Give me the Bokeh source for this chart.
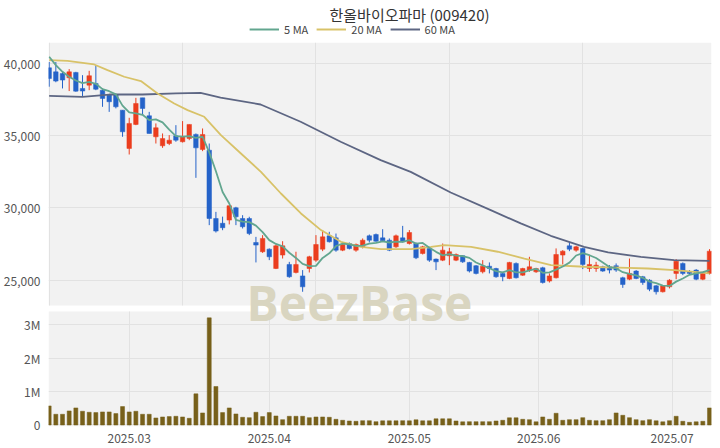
from bokeh.plotting import figure
from bokeh.layouts import column
from bokeh.models import (ColumnDataSource, FixedTicker, Label, Grid, BoxAnnotation,
                          Range1d)
from bokeh.embed import file_html
from bokeh.resources import INLINE

FONT = "Noto Sans CJK KR"
RED = "#eb3d1e"
BLUE = "#2563c9"
VOLC = "#77601a"
GRID = "#e2e2e2"
PANEL = "#f2f2f2"
C5, C20, C60 = "#62a68f", "#d8c268", "#5d6683"

title_text = "한올바이오파마 (009420)"

opens = [39700, 39420, 39300, 39010, 39380, 38270, 38500, 38615, 38150, 37810,
         37850, 36770, 34120, 35780, 37620, 36380, 34925, 34300, 34460, 34990,
         34580, 34810, 35090, 34050, 34000, 29270, 28940, 29160, 30010, 29270,
         29270, 27610, 26970, 27150, 25810, 26740, 26090, 25535, 25300, 25810,
         26390, 27150, 28070, 27930, 27080, 27540, 27080, 27310, 28070, 28160,
         27930, 27770, 27310, 27930, 27540, 27540, 26850, 27200, 26460, 26390,
         26690, 26390, 26690, 26230, 26000, 25580, 25970, 25810, 25470, 25120,
         26160, 25350, 25700, 25580, 25860, 24940, 25170, 26740, 27380, 27080,
         27200, 25810, 25810, 25930, 25930, 26000, 25170, 25070, 25630, 25240,
         25000, 24610, 24200, 24540, 25470, 26160, 25580, 25700, 25070, 25470]
highs = [40100, 40100, 39420, 39610, 39420, 39190, 39490, 39880, 38270, 37850,
         37900, 36770, 36240, 37620, 37620, 36650, 35850, 35155, 35040, 35730,
         36010, 35780, 35155, 35500, 34460, 29730, 29400, 30200, 30080, 29500,
         29390, 28000, 28120, 27200, 27470, 27700, 26270, 26970, 25700, 26690,
         28120, 28470, 28350, 28230, 27610, 27610, 27540, 27890, 28160, 28230,
         28530, 27890, 28160, 28760, 28470, 27610, 27380, 27240, 26500, 27540,
         27240, 26850, 26740, 26270, 26050, 26390, 26230, 25860, 25580, 26270,
         26230, 25860, 26620, 25860, 25930, 25470, 27200, 27080, 27610, 27380,
         27240, 26690, 26270, 26000, 26050, 26160, 25240, 26500, 25700, 25300,
         25070, 24660, 24660, 25070, 26460, 26230, 25700, 25770, 25580, 27150]
lows = [38390, 38700, 38270, 38090, 38040, 37690, 38150, 38150, 37000, 36650,
        36890, 34925, 33700, 35730, 36470, 35155, 34460, 34160, 34350, 34580,
        34530, 34690, 32085, 33930, 28810, 28300, 28460, 28860, 28810, 28580,
        28120, 26230, 26890, 26390, 25770, 26500, 25170, 25470, 24200, 25535,
        26270, 27010, 27610, 26970, 27010, 27130, 26970, 27200, 27610, 27660,
        27660, 27010, 27240, 27610, 27470, 26460, 26780, 26270, 25700, 26320,
        26040, 26320, 26200, 25535, 25400, 25470, 25470, 25170, 24930, 25070,
        25120, 25300, 25580, 25510, 24770, 24840, 25120, 26090, 27010, 26970,
        25770, 25580, 25580, 25580, 25470, 25580, 24470, 25000, 25070, 24680,
        24240, 24010, 24150, 24430, 25070, 25350, 25400, 25000, 25000, 25400]
closes = [38960, 38780, 38850, 39420, 38085, 38090, 39150, 38220, 37580, 37350,
          37000, 35270, 35850, 37230, 36885, 35155, 35550, 34800, 34690, 34690,
          34925, 35780, 34160, 35085, 29270, 28400, 28630, 30150, 29390, 28700,
          28230, 27430, 27890, 26620, 27380, 27380, 25240, 26090, 24540, 26620,
          27470, 28000, 27660, 27080, 27470, 27190, 27470, 27770, 27770, 27700,
          27730, 27080, 28070, 27660, 28300, 26550, 27310, 26390, 26270, 27080,
          26970, 26780, 26270, 25630, 25470, 25970, 25810, 25240, 25240, 26230,
          25170, 25810, 25930, 25810, 24840, 25300, 26780, 27010, 27150, 27310,
          26090, 26090, 26040, 25630, 25700, 25700, 24700, 25470, 25120, 24840,
          24380, 24200, 24610, 25000, 26320, 25470, 25470, 25070, 25470, 27010]
volumes = [570000, 320000, 320000, 420000, 510000, 410000, 380000, 370000, 390000, 390000,
           340000, 550000, 390000, 410000, 320000, 320000, 210000, 240000, 250000, 260000,
           240000, 200000, 930000, 360000, 3200000, 1150000, 370000, 510000, 330000, 230000,
           220000, 380000, 250000, 370000, 270000, 160000, 260000, 260000, 260000, 220000,
           240000, 240000, 230000, 170000, 140000, 120000, 110000, 130000, 130000, 100000,
           125000, 125000, 125000, 130000, 125000, 155000, 125000, 125000, 185000, 185000,
           185000, 120000, 95000, 100000, 100000, 100000, 100000, 120000, 140000, 215000,
           215000, 170000, 160000, 95000, 240000, 170000, 350000, 140000, 160000, 160000,
           220000, 140000, 130000, 130000, 160000, 360000, 290000, 220000, 160000, 130000,
           160000, 125000, 95000, 130000, 260000, 110000, 80000, 95000, 110000, 510000]

# moving averages (first 5 MA values, and the 20/60 MA lines)
ma5_head = [40460, 39885, 39420, 39080]
ma20_x = [0, 2.75, 6.75, 8.75, 11.25, 13.75, 16.25, 18.75, 20.75, 23.25, 25.75, 28.75,
          31.75, 34.75, 37.75, 40.75, 43.75, 46.75, 49.75, 54.25, 57.25, 59.25, 63.25,
          67.25, 71.25, 75.25, 80.25, 86.75, 89.75, 93.75, 96.75, 99]
ma20_y = [40230, 40180, 39930, 39540, 39080, 38780, 37925, 37230, 36770, 36310, 35040, 33770,
          32500, 31000, 29620, 28470, 27660, 27310, 27150, 27150, 27310, 27430, 27310,
          26970, 26500, 26040, 25930, 25860, 25810, 25700, 25580, 25470]
ma60_x = [0, 5, 9, 14, 19, 22.7, 25.7, 31.7, 37.7, 43.7, 49.7, 54.2, 60.2, 66.2, 70.7,
          75.2, 80.2, 83.8, 88.7, 93.7, 99]
ma60_y = [37760, 37690, 37850, 37850, 37925, 37970, 37630, 37160, 35965, 34580, 33310,
          32500, 31070, 29850, 28930, 28075, 27310, 26920, 26620, 26390, 26340]

month_idx = [12, 33, 54, 73.4, 93.4]
month_labels = ["2025.03", "2025.04", "2025.05", "2025.06", "2025.07"]
price_ticks = [25000, 30000, 35000, 40000]
price_labels = ["25,000", "30,000", "35,000", "40,000"]
vol_ticks = [0, 1000000, 2000000, 3000000]
vol_labels = ["0", "1M", "2M", "3M"]
legend_labels = ["5 MA", "20 MA", "60 MA"]

n = len(closes)
idx = list(range(n))
ma5 = ma5_head + [sum(closes[i - 4:i + 1]) / 5 for i in range(4, n)]

src = ColumnDataSource(dict(
    x=idx, h=highs, l=lows,
    top=[max(o, c) for o, c in zip(opens, closes)],
    bottom=[min(o, c) for o, c in zip(opens, closes)],
    color=[RED if c > o else BLUE for o, c in zip(opens, closes)],
    vol=volumes,
))

# ---- panel geometry: price panel on top, volume panel below, in one frame
P_TOP, P_BOT = 41450, 23250
V_TOP, V_BOT = 3390000, -45000
PRICE_PX, GAP_PX, VOL_PX = 263, 6, 115
FRAME_H = PRICE_PX + GAP_PX + VOL_PX
p_per_px = (P_TOP - P_BOT) / PRICE_PX
y_lo = P_BOT - (GAP_PX + VOL_PX) * p_per_px
v_per_px = (V_TOP - V_BOT) / VOL_PX
v_hi = V_TOP + (GAP_PX + PRICE_PX) * v_per_px
vol_pos = [y_lo + (t - V_BOT) / (v_hi - V_BOT) * (P_TOP - y_lo) for t in vol_ticks]

# ---- header: title + legend
HEAD_H = 37
h = figure(frame_width=704, frame_height=HEAD_H, x_range=Range1d(0, 1),
           y_range=Range1d(0, HEAD_H), x_axis_location=None, y_axis_location=None,
           output_backend="svg", toolbar_location=None,
           min_border_left=0, min_border_right=0, min_border_top=0, min_border_bottom=0)
h.grid.visible = False
h.outline_line_color = None
h.add_layout(Label(x=0.5128, y=HEAD_H - 14, text=title_text, text_align="center",
                   text_baseline="middle", text_font=FONT, text_font_size="15px",
                   text_color="#333333"))
# legend samples only (placed outside the header's visible x range)
for col, lab in zip([C5, C20, C60], legend_labels):
    h.line([2, 3], [0, 0], line_color=col, line_width=2, legend_label=lab)
lg = h.legend[0]
lg.location = "bottom_center"
lg.orientation = "horizontal"
lg.label_text_font = FONT
lg.label_text_font_size = "11px"
lg.label_text_color = "#444444"
lg.glyph_width = 30
lg.glyph_height = 10
lg.label_height = 10
lg.spacing = 8
lg.padding = 0
lg.margin = 0
lg.label_standoff = 5
lg.border_line_alpha = 0
lg.background_fill_alpha = 0

# ---- main figure
p = figure(frame_width=663, frame_height=FRAME_H, x_range=Range1d(-0.1, 99.3),
           y_range=Range1d(y_lo, P_TOP), output_backend="svg", toolbar_location=None,
           min_border_left=40, min_border_right=1, min_border_top=5, min_border_bottom=0)
p.extra_y_ranges = {"vol": Range1d(V_BOT, v_hi)}
p.background_fill_color = "white"
p.border_fill_color = "white"
p.outline_line_color = None
p.grid.visible = False

p.add_layout(BoxAnnotation(bottom=P_BOT, top=P_TOP, fill_color=PANEL, fill_alpha=1,
                           line_color=None, level="image"))
p.add_layout(BoxAnnotation(bottom=V_BOT, top=V_TOP, y_range_name="vol", fill_color=PANEL,
                           fill_alpha=1, line_color=None, level="image"))
grids = [
    Grid(dimension=1, ticker=FixedTicker(ticks=price_ticks)),
    Grid(dimension=0, ticker=FixedTicker(ticks=[0, 20, 40, 60, 80]), cross_bounds=(P_BOT, P_TOP)),
    Grid(dimension=1, y_range_name="vol", ticker=FixedTicker(ticks=vol_ticks)),
    Grid(dimension=0, y_range_name="vol", ticker=FixedTicker(ticks=month_idx),
         cross_bounds=(V_BOT, V_TOP)),
]
for g in grids:
    g.grid_line_color = GRID
    g.grid_line_width = 1
    p.add_layout(g)

for ax in p.axis:
    ax.axis_line_color = None
    ax.major_tick_line_color = None
    ax.minor_tick_line_color = None
    ax.major_label_text_font = FONT
    ax.major_label_text_font_size = "12px"
    ax.major_label_text_color = "#555555"

p.yaxis.ticker = FixedTicker(ticks=price_ticks + vol_pos)
p.yaxis.major_label_overrides = dict(zip(price_ticks + vol_pos, price_labels + vol_labels))
p.yaxis.major_label_standoff = 2
p.xaxis.ticker = FixedTicker(ticks=month_idx)
p.xaxis.major_label_overrides = dict(zip(month_idx, month_labels))
p.xaxis.major_label_standoff = 1

p.add_layout(Label(x=29.6, y=23460, text="BeezBase", text_font="Open Sans",
                   text_font_size="48px", text_font_style="bold", text_color="#d9d5c0",
                   text_align="left", text_baseline="middle", level="underlay"))

p.vbar(x="x", top="vol", bottom=0, width=0.6, fill_color=VOLC, line_color=VOLC,
       line_width=0.5, source=src, y_range_name="vol")
p.segment(x0="x", y0="l", x1="x", y1="h", color="color", line_width=1, source=src)
p.vbar(x="x", top="top", bottom="bottom", width=0.68, fill_color="color",
       line_color="color", line_width=0.5, source=src)
p.line(ma60_x, ma60_y, line_color=C60, line_width=1.8)
p.line(ma20_x, ma20_y, line_color=C20, line_width=1.8)
p.line(idx, ma5, line_color=C5, line_width=1.8)

layout = column(h, p, spacing=0)
open("out.html", "w").write(file_html(layout, INLINE))
